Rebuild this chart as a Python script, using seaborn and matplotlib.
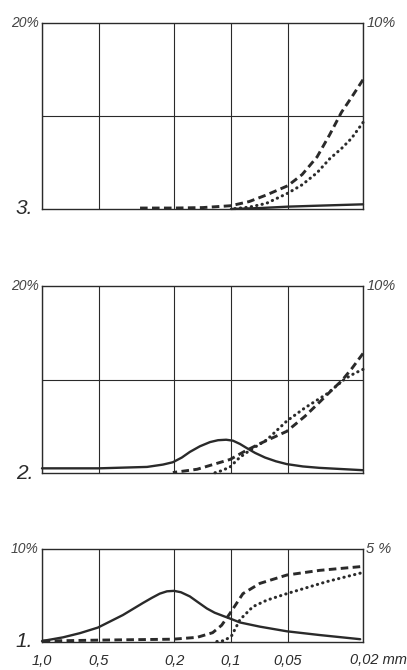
import matplotlib
matplotlib.use("Agg")
import matplotlib.pyplot as plt
import seaborn as sns

# grain size (mm) on the x axis, percent on the left axis
size_ticks = [1.0, 0.5, 0.2, 0.1, 0.05, 0.02]
size_labels = ["1,0", "0,5", "0,2", "0,1", "0,05", ""]
last_label = "0,02 mm"

# panel 3
p3_solid_mm = [0.1, 0.07, 0.05, 0.035, 0.02]
p3_solid = [0.0, 0.1, 0.25, 0.35, 0.5]
p3_dash_mm = [0.31, 0.2, 0.141, 0.1, 0.08, 0.065, 0.05, 0.042, 0.035, 0.03, 0.026, 0.023, 0.02]
p3_dash = [0.1, 0.1, 0.15, 0.35, 0.8, 1.5, 2.5, 3.7, 5.6, 8.0, 10.4, 12.0, 13.9]
p3_dot_mm = [0.1, 0.08, 0.065, 0.05, 0.042, 0.035, 0.03, 0.026, 0.023, 0.02]
p3_dot = [0.0, 0.2, 0.6, 1.7, 2.6, 3.9, 5.4, 6.5, 7.6, 9.3]

# panel 2
p2_solid_mm = [1.0, 0.5, 0.278, 0.229, 0.203, 0.182, 0.165, 0.146, 0.129, 0.117, 0.106,
               0.0976, 0.0896, 0.0823, 0.0746, 0.066, 0.0578, 0.0506, 0.0416, 0.034, 0.02]
p2_solid = [0.55, 0.55, 0.7, 0.95, 1.2, 1.7, 2.3, 2.9, 3.35, 3.55, 3.6,
            3.5, 3.15, 2.7, 2.2, 1.7, 1.3, 1.0, 0.75, 0.6, 0.35]
p2_dash_mm = [0.203, 0.151, 0.101, 0.084, 0.07, 0.0506, 0.0406, 0.034, 0.0289, 0.0259, 0.0229, 0.02]
p2_dash = [0.1, 0.45, 1.5, 2.4, 3.2, 4.5, 6.1, 7.6, 9.0, 9.9, 11.2, 12.8]
p2_dot_mm = [0.125, 0.112, 0.101, 0.09, 0.079, 0.0645, 0.0506, 0.0406, 0.031, 0.0249, 0.0221, 0.02]
p2_dot = [0.0, 0.3, 0.7, 1.7, 2.5, 3.6, 5.6, 7.0, 8.5, 10.1, 10.7, 11.1]

# panel 1
p1_solid_mm = [1.0, 0.774, 0.63, 0.506, 0.373, 0.292, 0.262, 0.238, 0.218, 0.2, 0.184, 0.165,
               0.15, 0.134, 0.122, 0.11, 0.099, 0.0896, 0.0703, 0.0506, 0.034, 0.0207]
p1_solid = [0.1, 0.5, 0.95, 1.55, 2.9, 4.2, 4.75, 5.2, 5.45, 5.5, 5.35, 4.9,
            4.3, 3.6, 3.15, 2.8, 2.45, 2.1, 1.65, 1.15, 0.75, 0.3]
p1_dash_mm = [1.0, 0.506, 0.203, 0.151, 0.125, 0.112, 0.101, 0.0864, 0.0703, 0.0506, 0.034, 0.0207]
p1_dash = [0.1, 0.2, 0.3, 0.5, 1.0, 1.8, 3.1, 5.2, 6.3, 7.2, 7.7, 8.1]
p1_dot_mm = [0.125, 0.108, 0.099, 0.0896, 0.0765, 0.0645, 0.0506, 0.031, 0.0207]
p1_dot = [0.0, 0.15, 0.7, 2.4, 3.8, 4.5, 5.2, 6.5, 7.4]

panels = [
    # (number, axes rect, ymax, left label, right label, midline, curves)
    ("3.", [0.1032, 0.6881, 0.7887, 0.2776], 20, "20%", "10%", True,
     [(p3_solid_mm, p3_solid), (p3_dash_mm, p3_dash), (p3_dot_mm, p3_dot)]),
    ("2.", [0.1032, 0.2933, 0.7887, 0.2799], 20, "20%", "10%", True,
     [(p2_solid_mm, p2_solid), (p2_dash_mm, p2_dash), (p2_dot_mm, p2_dot)]),
    ("1.", [0.1032, 0.0418, 0.7887, 0.1388], 10, "10%", "5 %", False,
     [(p1_solid_mm, p1_solid), (p1_dash_mm, p1_dash), (p1_dot_mm, p1_dot)]),
]

sns.set_style("white")
plt.rcParams["font.family"] = ["Liberation Sans", "DejaVu Sans"]
ink = "#2a2a2a"

fig = plt.figure(figsize=(4.07, 6.70), dpi=100)
fig.patch.set_facecolor("white")

styles = [
    dict(linestyle="-", linewidth=1.7),
    dict(linestyle=(0, (2.6, 1.5)), linewidth=2.1),
    dict(linestyle=(0, (0.1, 1.7)), linewidth=2.2, dash_capstyle="round"),
]

for num, rect, ymax, llab, rlab, mid, curves in panels:
    ax = fig.add_axes(rect)
    for (xs, ys), st in zip(curves, styles):
        sns.lineplot(x=xs, y=ys, ax=ax, color=ink, clip_on=False, **st)
    ax.set_xscale("log")
    ax.set_xlim(1.0, 0.02)
    ax.set_ylim(0, ymax)
    ax.set_xticks(size_ticks)
    ax.xaxis.set_minor_locator(matplotlib.ticker.NullLocator())
    if num == "1.":
        ax.set_xticklabels(size_labels, fontsize=10.5, style="italic", color=ink)
        # last label runs on with the unit, starting just left of the right edge
        ax.text(0.958, -0.19, last_label, transform=ax.transAxes, ha="left", va="center",
                fontsize=10.5, style="italic", color=ink)
    else:
        ax.set_xticklabels([])
    ax.tick_params(axis="x", length=0, pad=9)
    ax.set_yticks([ymax / 2] if mid else [])
    ax.set_yticklabels([])
    ax.tick_params(axis="y", length=0)
    ax.grid(True, axis="x", color=ink, linewidth=0.8)
    if mid:
        ax.grid(True, axis="y", color=ink, linewidth=0.8)
    for s in ax.spines.values():
        s.set_color(ink)
        s.set_linewidth(1.0)
    ax.set_xlabel("")
    ax.set_ylabel("")
    ax.text(-0.01, 1.0, llab, transform=ax.transAxes, ha="right", va="center",
            fontsize=10, style="italic", color="#444")
    ax.text(1.01, 1.0, rlab, transform=ax.transAxes, ha="left", va="center",
            fontsize=10.5, style="italic", color="#444")
    ax.text(-0.028, 0.0, num, transform=ax.transAxes, ha="right", va="center",
            fontsize=15, style="italic", color=ink)

fig.savefig("out.png", dpi=100, facecolor="white")
